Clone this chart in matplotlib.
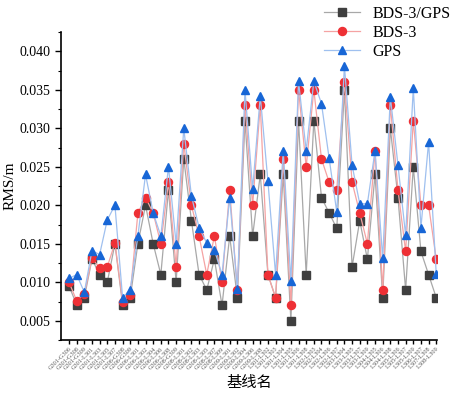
import numpy as np
import matplotlib.pyplot as plt

plt.rcParams['font.family'] = ['Liberation Serif', 'Noto Sans CJK SC']

# 基线名
baselines = [
    'G301-G306', 'G301-G308', 'G301-G309', 'G301-L301', 'G301-L303', 'G301-L305',
    'G301-L307', 'G306-G308', 'G306-G309', 'G306-L301', 'G306-L302', 'G306-L304',
    'G306-L306', 'G306-L308', 'G308-G309', 'G308-L301', 'G308-L302', 'G308-L303',
    'G308-L305', 'G308-L307', 'G308-L309', 'G309-L301', 'G309-L302', 'G309-L304',
    'G309-L306', 'G309-L308', 'L301-L302', 'L301-L303', 'L301-L304', 'L301-L305',
    'L301-L306', 'L301-L308', 'L302-L303', 'L302-L304', 'L302-L306', 'L302-L307',
    'L303-L304', 'L303-L305', 'L303-L307', 'L303-L309', 'L304-L305', 'L304-L306',
    'L304-L308', 'L305-L306', 'L305-L307', 'L305-L309', 'L306-L307', 'L307-L308',
    'L308-L309',
]

bds_gps = [0.0095, 0.0071, 0.008, 0.013, 0.011, 0.010, 0.015, 0.0071, 0.008, 0.015,
           0.020, 0.015, 0.011, 0.022, 0.010, 0.026, 0.018, 0.011, 0.009, 0.013,
           0.007, 0.016, 0.008, 0.031, 0.016, 0.024, 0.011, 0.008, 0.024, 0.005,
           0.031, 0.011, 0.031, 0.021, 0.019, 0.017, 0.035, 0.012, 0.018, 0.013,
           0.024, 0.008, 0.030, 0.021, 0.009, 0.025, 0.014, 0.011, 0.008]

bds3 = [0.010, 0.0076, 0.0085, 0.0131, 0.0119, 0.012, 0.0151, 0.0075, 0.0084, 0.019,
        0.021, 0.019, 0.015, 0.023, 0.012, 0.028, 0.020, 0.016, 0.011, 0.016,
        0.010, 0.022, 0.009, 0.033, 0.020, 0.033, 0.011, 0.008, 0.026, 0.007,
        0.035, 0.025, 0.035, 0.026, 0.023, 0.022, 0.036, 0.023, 0.019, 0.015,
        0.027, 0.009, 0.033, 0.022, 0.014, 0.031, 0.020, 0.020, 0.013]

gps = [0.0105, 0.011, 0.0087, 0.0141, 0.0136, 0.0181, 0.020, 0.008, 0.009, 0.016,
       0.024, 0.019, 0.016, 0.025, 0.015, 0.030, 0.0212, 0.0171, 0.0151, 0.0142,
       0.011, 0.021, 0.0091, 0.035, 0.0221, 0.0342, 0.0231, 0.011, 0.0271, 0.0101,
       0.0361, 0.0271, 0.0361, 0.0332, 0.0261, 0.0191, 0.0381, 0.0252, 0.0202, 0.0202,
       0.0271, 0.0131, 0.0341, 0.0252, 0.0161, 0.0352, 0.0171, 0.0282, 0.0111]

x = np.arange(len(baselines))

fig = plt.figure(figsize=(4.6, 3.98), dpi=100)
ax = fig.add_axes([0.1326, 0.1457, 0.8174, 0.7739])

ax.plot(x, bds_gps, color='#a8a8a8', lw=0.9, marker='s', ms=5.2,
        mfc='#3f3f3f', mec='#3f3f3f', label='BDS-3/GPS', zorder=3)
ax.plot(x, bds3, color='#f5a3a3', lw=0.9, marker='o', ms=5.8,
        mfc='#ee3035', mec='#ee3035', label='BDS-3', zorder=4)
ax.plot(x, gps, color='#9fc0ef', lw=0.9, marker='^', ms=6.3,
        mfc='#1766d6', mec='#1766d6', label='GPS', zorder=5)

ax.set_xlim(-1.05, 48.1)
ax.set_ylim(0.00268, 0.04245)
ax.set_yticks(np.arange(0.005, 0.0401, 0.005))
ax.set_yticks(np.arange(0.0025, 0.0426, 0.0025), minor=True)
ax.set_yticklabels([f'{v:.3f}' for v in np.arange(0.005, 0.0401, 0.005)], fontsize=10)
ax.set_xticks(x)
ax.set_xticklabels(baselines, rotation=45, ha='right', rotation_mode='anchor',
                   fontsize=4.5, color='#555555')
ax.tick_params(axis='both', direction='out', width=1, length=4)
ax.tick_params(axis='y', which='minor', length=2.5, width=0.8)
ax.tick_params(axis='x', length=3, pad=1.5)

for s in ['top', 'right']:
    ax.spines[s].set_visible(False)
for s in ['left', 'bottom']:
    ax.spines[s].set_linewidth(1.2)

ax.set_ylabel('RMS/m', fontsize=11)
ax.yaxis.set_label_coords(-0.118, 0.5)
ax.set_xlabel('基线名', fontsize=11, family=['Noto Sans CJK SC'], labelpad=2)

fig.legend(loc='upper right', bbox_to_anchor=(1.0, 1.01), frameon=False,
           fontsize=11.5, handlelength=2.2, labelspacing=0.2, borderaxespad=0.2)

fig.savefig('out.png', dpi=100)
